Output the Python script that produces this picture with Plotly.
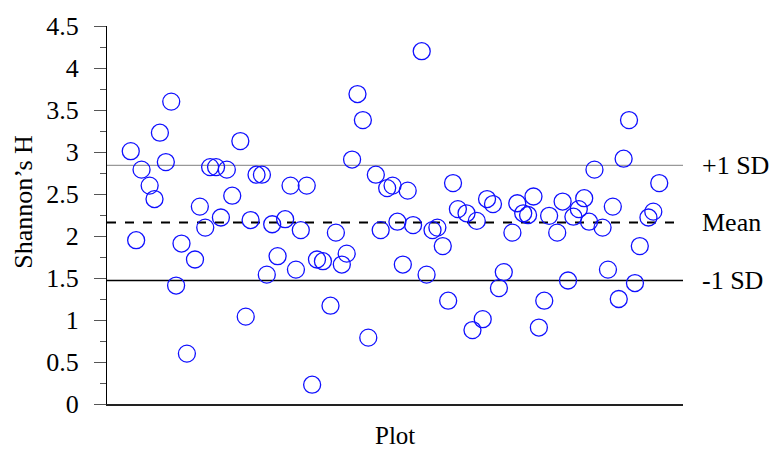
import plotly.graph_objects as go

# Plot positions (order along x axis) and Shannon's H values
plot_pos = [1.0, 2.0, 3.0, 4.5, 5.4, 6.4, 7.5, 8.5, 9.4, 10.4, 11.4, 12.9, 13.8, 14.8,
            15.7, 16.8, 17.7, 18.8, 19.8, 21.3, 22.3, 23.2, 24.3, 25.3, 26.2, 27.2,
            28.2, 29.6, 30.6, 31.6, 32.5, 33.6, 34.6, 35.5, 36.6, 38.0, 39.0, 40.1,
            41.0, 42.0, 43.0, 44.0, 45.0, 46.4, 47.3, 48.5, 49.5, 50.4, 51.4, 52.3,
            53.3, 54.9, 55.8, 56.9, 57.8, 58.8, 59.8, 60.7, 61.6, 63.2, 64.3, 65.1,
            66.2, 67.0, 68.1, 69.2, 70.1, 71.7, 72.6, 73.7, 74.6, 75.6, 76.6, 77.6,
            78.5, 80.0, 81.0, 82.0, 83.0, 84.0, 85.0, 85.9, 86.9, 88.4, 89.4, 90.3,
            91.4, 92.3, 93.3, 94.4, 95.3, 96.9, 97.8, 98.9]
shannon_h = [3.01, 1.95, 2.79, 2.60, 2.44, 3.23, 2.88, 3.60, 1.41, 1.91, 0.60, 1.72,
             2.35, 2.10, 2.82, 2.82, 2.22, 2.79, 2.48, 3.13, 1.04, 2.19, 2.73, 2.73,
             1.54, 2.14, 1.76, 2.20, 2.60, 1.60, 2.07, 2.60, 0.23, 1.72, 1.70, 1.17,
             2.04, 1.66, 1.79, 2.91, 3.69, 3.38, 0.79, 2.73, 2.07, 2.57, 2.60, 2.17,
             1.66, 2.54, 2.13, 4.20, 1.54, 2.07, 2.10, 1.88, 1.23, 2.63, 2.32, 2.27,
             0.88, 2.18, 1.01, 2.44, 2.38, 1.38, 1.57, 2.04, 2.39, 2.27, 2.25, 2.47,
             0.91, 1.23, 2.24, 2.04, 2.41, 1.47, 2.23, 2.32, 2.45, 2.17, 2.79, 2.10,
             1.60, 2.35, 1.25, 2.92, 3.38, 1.44, 1.88, 2.22, 2.29, 2.63]

ref_labels = ["+1 SD", "Mean", "-1 SD"]
ref_values = [2.84, 2.16, 1.47]
ref_colors = ["#999999", "#000000", "#000000"]
ref_dash = ["solid", "dash", "solid"]
ref_width = [1.3, 2.0, 1.5]

y_ticks = [0, 0.5, 1, 1.5, 2, 2.5, 3, 3.5, 4, 4.5]
y_ticktext = ["0", "0.5", "1", "1.5", "2", "2.5", "3", "3.5", "4", "4.5"]

FONT = "Liberation Serif, Times New Roman, serif"
FS = 26

fig = go.Figure()
fig.add_trace(go.Scatter(
    x=plot_pos, y=shannon_h, mode="markers",
    marker=dict(symbol="circle-open", size=17, color="#1010ff",
                line=dict(width=1.3, color="#1010ff")),
    showlegend=False, hoverinfo="y"))

for lab, val, col, dsh, w in zip(ref_labels, ref_values, ref_colors, ref_dash, ref_width):
    fig.add_shape(type="line", xref="paper", yref="y", x0=0, x1=1, y0=val, y1=val,
                  line=dict(color=col, dash=dsh, width=w), layer="below")
    fig.add_annotation(xref="paper", yref="y", x=1, y=val, text=lab, showarrow=False,
                       xanchor="left", yanchor="middle", xshift=17,
                       font=dict(family=FONT, size=FS, color="black"))

# axis titles
fig.add_annotation(xref="paper", yref="paper", x=0, y=0.535, text="Shannon’s H",
                   textangle=-90, showarrow=False, xanchor="center", yanchor="middle",
                   xshift=-83, font=dict(family=FONT, size=FS, color="black"))
fig.add_annotation(xref="paper", yref="paper", x=0.5, y=0, text="Plot",
                   showarrow=False, xanchor="center", yanchor="middle",
                   yshift=-31, font=dict(family=FONT, size=25, color="black"))

fig.update_layout(
    width=772, height=451,
    margin=dict(l=107, r=89, t=20, b=47),
    paper_bgcolor="white", plot_bgcolor="white",
    font=dict(family=FONT, size=FS, color="black"),
    xaxis=dict(range=[-3.4, 103.3], showticklabels=False, ticks="", showgrid=False,
               zeroline=False, showline=True, linecolor="#222222", linewidth=2),
    yaxis=dict(range=[0, 4.5], tickvals=y_ticks, ticktext=y_ticktext, ticks="outside",
               ticklen=12, tickwidth=1, tickcolor="#555555", showgrid=False,
               zeroline=False, showline=True, linecolor="black", linewidth=1.2,
               ticklabelstandoff=10,
               minor=dict(dtick=0.25, ticks="outside", ticklen=6, tickcolor="#555555",
                          showgrid=False),
               tickfont=dict(family=FONT, size=FS)),
)

fig.write_html("out.html")
